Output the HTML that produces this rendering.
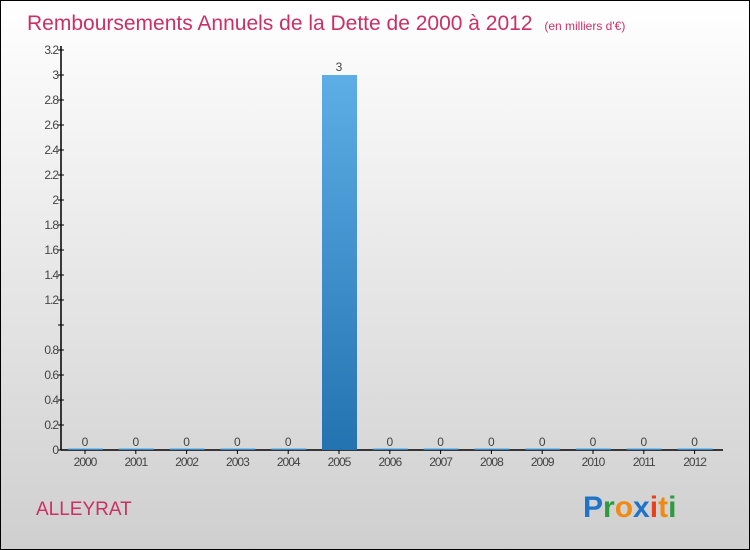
<!DOCTYPE html>
<html><head><meta charset="utf-8"><style>
body{margin:0}
#c{width:748px;height:548px;border:1px solid #000;background:linear-gradient(#fff,#cfcfcf);position:relative;font-family:"Liberation Sans",sans-serif;overflow:hidden}
</style></head><body>
<div id="c">
<svg width="748" height="548" id="s" style="position:absolute;left:0;top:0">
<defs><linearGradient id="bg" x1="0" y1="0" x2="0" y2="1"><stop offset="0" stop-color="#5dade6"/><stop offset="1" stop-color="#2373b0"/></linearGradient></defs>
<text x="26" y="29" font-size="21" fill="#cc2f64">Remboursements Annuels de la Dette de 2000 à 2012 <tspan font-size="12" dx="6">(en milliers d'€)</tspan></text>
<text x="35" y="514" font-size="19" fill="#cc2f64">ALLEYRAT</text>
<g font-size="30" font-weight="bold" font-family="'Liberation Sans',sans-serif">
<text x="582" y="516"><tspan fill="#1f74c8">P</tspan><tspan fill="#2c9a3e">r</tspan><tspan fill="#f08a13">o</tspan><tspan fill="#1f74c8">x</tspan><tspan fill="#e8401c">i</tspan><tspan fill="#f08a13">t</tspan><tspan fill="#2c9a3e">i</tspan></text></g>
<g id="plot"></g>
</svg></div>
<script>
const categories=["2000","2001","2002","2003","2004","2005","2006","2007","2008","2009","2010","2011","2012"];
const values=[0,0,0,0,0,3,0,0,0,0,0,0,0];
const yTicks=[0,0.2,0.4,0.6,0.8,1,1.2,1.4,1.6,1.8,2,2.2,2.4,2.6,2.8,3,3.2];
const yTickLabels=["0","0.2","0.4","0.6","0.8","","1.2","1.4","1.6","1.8","2","2.2","2.4","2.6","2.8","3","3.2"];
const NS="http://www.w3.org/2000/svg";
const g=document.getElementById('plot');
const y0=449,yTop=49,yMax=3.2,x0=60;
const Y=v=>y0-(v/yMax)*(y0-yTop);
const X=i=>84+i*50.8;
function mk(t,a){const e=document.createElementNS(NS,t);for(const k in a)e.setAttribute(k,a[k]);g.appendChild(e);return e;}
let e;
e=mk('line',{x1:x0,y1:yTop-4,x2:x0,y2:y0,stroke:'#000','stroke-width':1.5});


e=mk('line',{x1:x0,y1:y0,x2:722,y2:y0,stroke:'#000','stroke-width':1.5});


yTicks.forEach((v,i)=>{
 e=mk('line',{x1:x0-3,y1:Y(v),x2:x0+3,y2:Y(v),stroke:'#000'});
 
 
 e=mk('text',{x:x0-3,y:Y(v)+4,'font-size':12,'text-anchor':'end',fill:'#444','letter-spacing':'-1'});
 e.textContent=yTickLabels[i];
 
 
});
categories.forEach((c,i)=>{
 const cx=X(i),h=Math.max(y0-Y(values[i]),1.5);
 e=mk('rect',{x:cx-17,y:y0-h,width:35,height:h,fill:'url(#bg)'});
 
 
 e=mk('line',{x1:cx,y1:y0,x2:cx,y2:y0+4,stroke:'#000'});
 
 
 e=mk('text',{x:cx,y:y0+16,'font-size':12,'text-anchor':'middle',fill:'#444','letter-spacing':'-1'});
 e.textContent=c;
 
 
 e=mk('text',{x:cx,y:Y(values[i])-4,'font-size':12,'text-anchor':'middle',fill:'#444'});
 e.textContent=values[i];
 
 
});
</script>
</body></html>
